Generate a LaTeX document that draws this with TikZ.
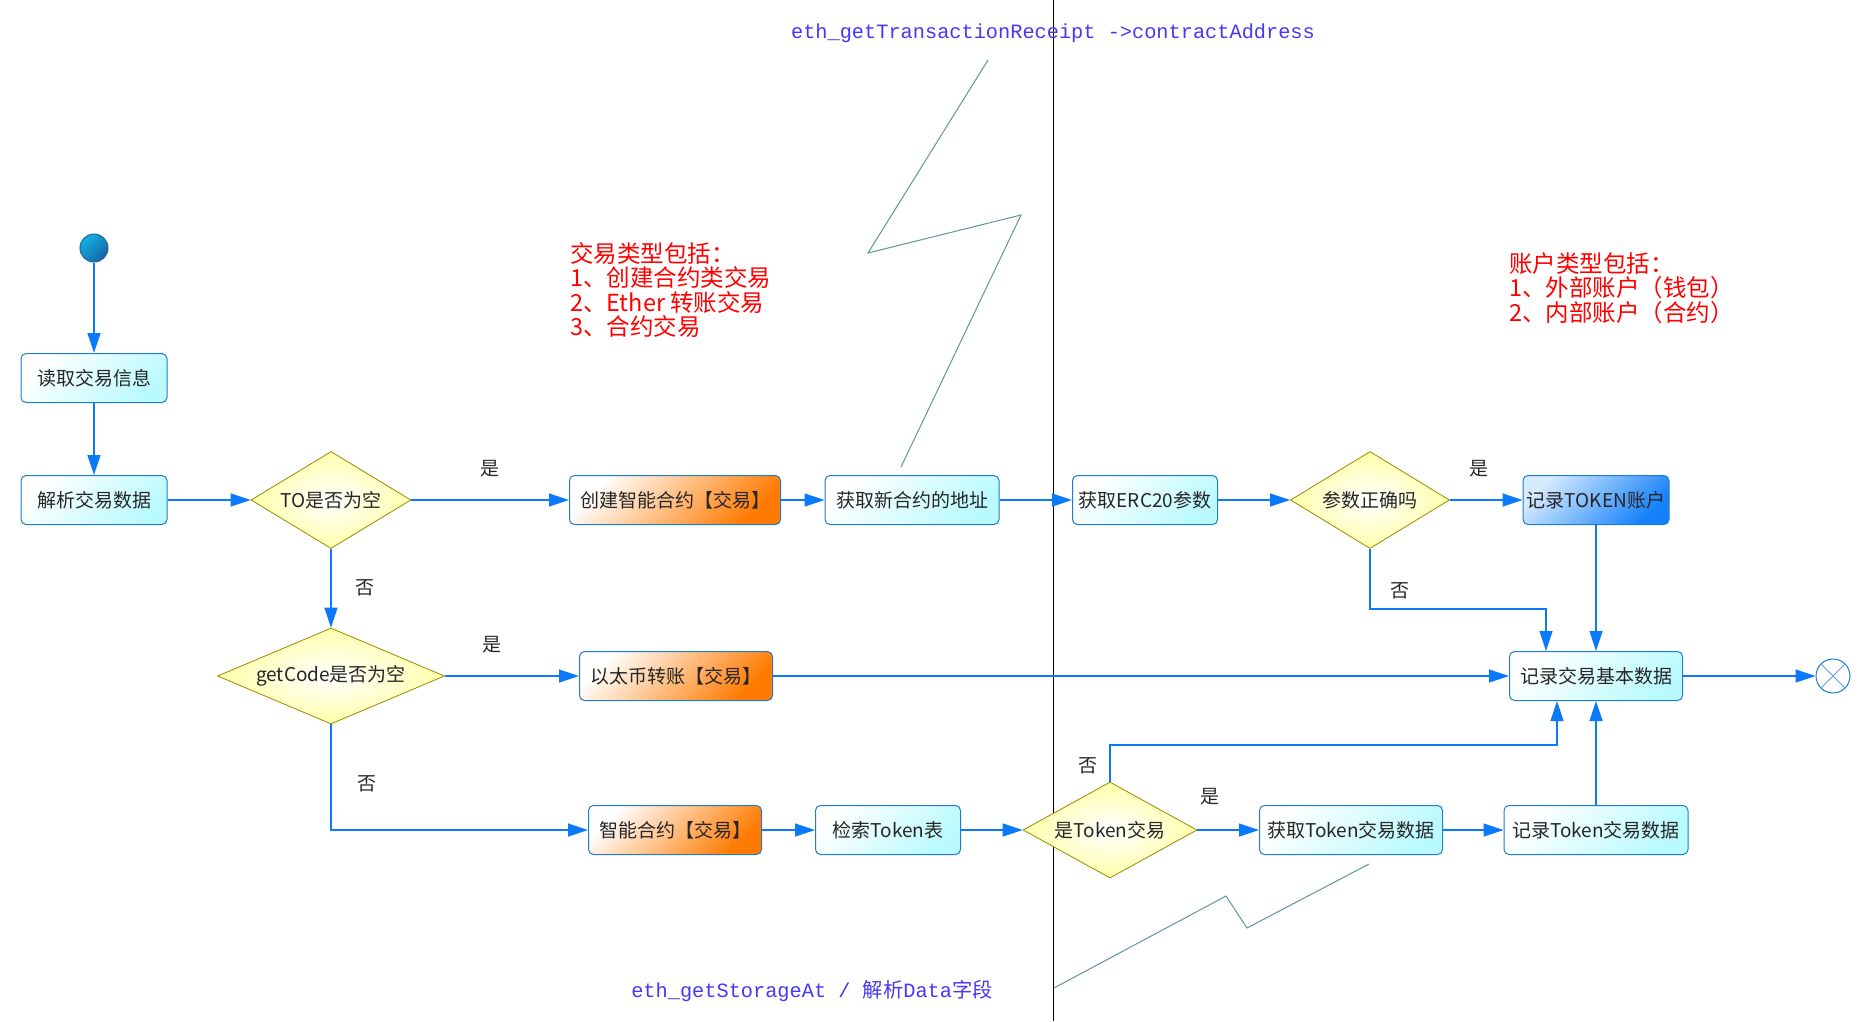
\documentclass[tikz,border=0pt]{standalone}
\usepackage{fontspec}
\setmainfont{Noto Sans CJK SC}
\setmonofont{Liberation Mono}
\usepackage{tikz}
\usetikzlibrary{positioning}
\usetikzlibrary{shapes.geometric,arrows.meta}

\definecolor{flowblue}{RGB}{10,122,250}
\definecolor{edgeblue}{RGB}{30,125,205}
\definecolor{actcyan}{RGB}{185,250,255}
\definecolor{actorange}{RGB}{255,122,0}
\definecolor{acctlight}{RGB}{215,235,255}
\definecolor{acctblue}{RGB}{20,128,250}
\definecolor{decyellow}{RGB}{255,255,170}
\definecolor{decolive}{RGB}{150,140,0}
\definecolor{noteblue}{RGB}{70,55,245}
\definecolor{zigteal}{RGB}{95,150,150}

\tikzset{
    boxfont/.style={font=\fontsize{19}{22}\selectfont, text=black!85},
    act/.style={boxfont, rectangle, rounded corners=5pt, draw=edgeblue, line width=1pt,
        minimum height=49pt, inner sep=2pt,
        top color=white, bottom color=actcyan, shading angle=45},
    orangeact/.style={act, top color=white, bottom color=actorange, shading angle=45},
    acct/.style={act, top color=acctlight, bottom color=acctblue, shading angle=45},
    dec/.style={boxfont, diamond, aspect=2.3, inner sep=0pt, draw=decolive, line width=0.8pt,
        inner color=white, outer color=decyellow},
    startdot/.style={circle, minimum size=28pt, inner sep=0pt, draw=edgeblue!80!black,
        line width=1pt, top color=cyan!40!edgeblue, bottom color=edgeblue!80!black, shading angle=45},
    endmark/.style={circle, minimum size=34pt, inner sep=0pt, draw=edgeblue, line width=1pt, fill=white},
    flow/.style={draw=flowblue, line width=1.3pt, -{Triangle[length=20pt,width=13pt]}},
    lbl/.style={boxfont, inner sep=0pt},
    rednote/.style={font=\fontsize{23.5}{24.5}\selectfont, text=red, align=left, inner sep=0pt, anchor=north west},
    codenote/.style={font=\ttfamily\fontsize{20.3}{24}\selectfont, text=noteblue, inner sep=0pt},
    zigzag/.style={draw=zigteal, line width=1pt},
}

\begin{document}
\begin{tikzpicture}[x=1pt, y=-1pt]

    % page size of the original drawing, in pixels
    \useasboundingbox (0,0) rectangle (1866,1021);

    % swim lane separator
    \draw[line width=1pt] (1053,0) -- (1053,1021);

    % Start and first steps
    \node[startdot] (start) at (94,248) {};
    \node[act, minimum width=146pt] (readTx)  at (94,378) {读取交易信息};
    \node[act, minimum width=146pt] (parseTx) at (94,500) {解析交易数据};

    % Decisions on the transaction type
    \node[dec, minimum width=160pt, minimum height=97pt] (toEmpty)   at (331,500) {TO是否为空};
    \node[dec, minimum width=227pt, minimum height=96pt] (codeEmpty) at (331,676) {getCode是否为空};

    % Row 1: contract creation
    \node[orangeact, minimum width=211pt] (createTx) at (675,500)  {创建智能合约【交易】};
    \node[act, minimum width=174pt]       (newAddr)  at (912,500)  {获取新合约的地址};
    \node[act, minimum width=145pt]       (erc20)    at (1145,500) {获取ERC20参数};
    \node[dec, minimum width=159pt, minimum height=97pt] (paramOk) at (1370,500) {参数正确吗};
    \node[acct, minimum width=146pt]      (tokenAcct) at (1596,500) {记录TOKEN账户};

    % Row 2: ether transfer
    \node[orangeact, minimum width=193pt] (etherTx) at (676,676)  {以太币转账【交易】};
    \node[act, minimum width=173pt]       (recBase) at (1596,676) {记录交易基本数据};
    \node[endmark] (finish) at (1833,676) {};
    \draw[edgeblue!70, line width=0.8pt] (finish.north west) -- (finish.south east)
                                         (finish.north east) -- (finish.south west);

    % Row 3: contract call
    \node[orangeact, minimum width=173pt] (contractTx) at (675,830) {智能合约【交易】};
    \node[act, minimum width=145pt]       (tokenTable) at (888,830) {检索Token表};
    \node[dec, minimum width=174pt, minimum height=96pt] (isToken) at (1110,830) {是Token交易};
    \node[act, minimum width=183pt]       (getTokenData) at (1351,830) {获取Token交易数据};
    \node[act, minimum width=184pt]       (recTokenData) at (1596,830) {记录Token交易数据};

    % bends of the two "no" paths
    \coordinate (okBend)  at (1546,609);
    \coordinate (tokBend) at (1557,745);

    %%%%%%%%%%%%%%%%%%%%%%%%%%%%%%%%%%%%%%%%%%%%%%%%%%%%%%%%%%%%%%
    \draw[flow] (start) -- (readTx);
    \draw[flow] (readTx) -- (parseTx);
    \draw[flow] (parseTx) -- (toEmpty);
    \draw[flow] (toEmpty) -- node[lbl, above=22pt] {是} (createTx);
    \draw[flow] (toEmpty) -- node[lbl, right=24pt] {否} (codeEmpty);
    \draw[flow] (createTx) -- (newAddr);
    \draw[flow] (newAddr) -- (erc20);
    \draw[flow] (erc20) -- (paramOk);
    \draw[flow] (paramOk) -- node[lbl, pos=0.4, above=22pt] {是} (tokenAcct);
    \draw[flow] (paramOk.south) |- node[lbl, pos=0.35, right=20pt] {否} (okBend) -- (okBend |- recBase.north);
    \draw[flow] (tokenAcct) -- (recBase);

    \draw[flow] (codeEmpty) -- node[lbl, pos=0.35, above=22pt] {是} (etherTx);
    \draw[flow] (etherTx) -- (recBase);
    \draw[flow] (recBase) -- (finish);
    \draw[flow] (codeEmpty.south) |- node[lbl, pos=0.28, right=26pt] {否} (contractTx);

    \draw[flow] (contractTx) -- (tokenTable);
    \draw[flow] (tokenTable) -- (isToken);
    \draw[flow] (isToken) -- node[lbl, pos=0.2, above=24pt] {是} (getTokenData);
    \draw[flow] (isToken.north) |- node[lbl, pos=0.22, left=12pt] {否} (tokBend) -- (tokBend |- recBase.south);
    \draw[flow] (getTokenData) -- (recTokenData);
    \draw[flow] (recTokenData) -- (recBase);

    % Notes
    \node[rednote] (txTypes) at (570,242)
        {交易类型包括：\\1、创建合约类交易\\2、Ether 转账交易\\3、合约交易};
    \node[rednote] (acctTypes) at (1509,252)
        {账户类型包括：\\1、外部账户（钱包）\\2、内部账户（合约）};

    \node[codenote] (receiptNote) at (1053,33) {eth\_getTransactionReceipt ->contractAddress};
    \node[codenote] (storageNote) at (812,991) {eth\_getStorageAt / {\rmfamily 解析}Data{\rmfamily 字段}};

    % zigzag links of the notes
    \draw[zigzag] ([xshift=-11pt]newAddr.north) ++(0,-8) -- (1021,215) -- (868,253) -- (988,60);
    \draw[zigzag] (1054,988) -- (1226,896) -- (1247,928) -- ([xshift=18pt,yshift=-9pt]getTokenData.south);

\end{tikzpicture}
\end{document}
